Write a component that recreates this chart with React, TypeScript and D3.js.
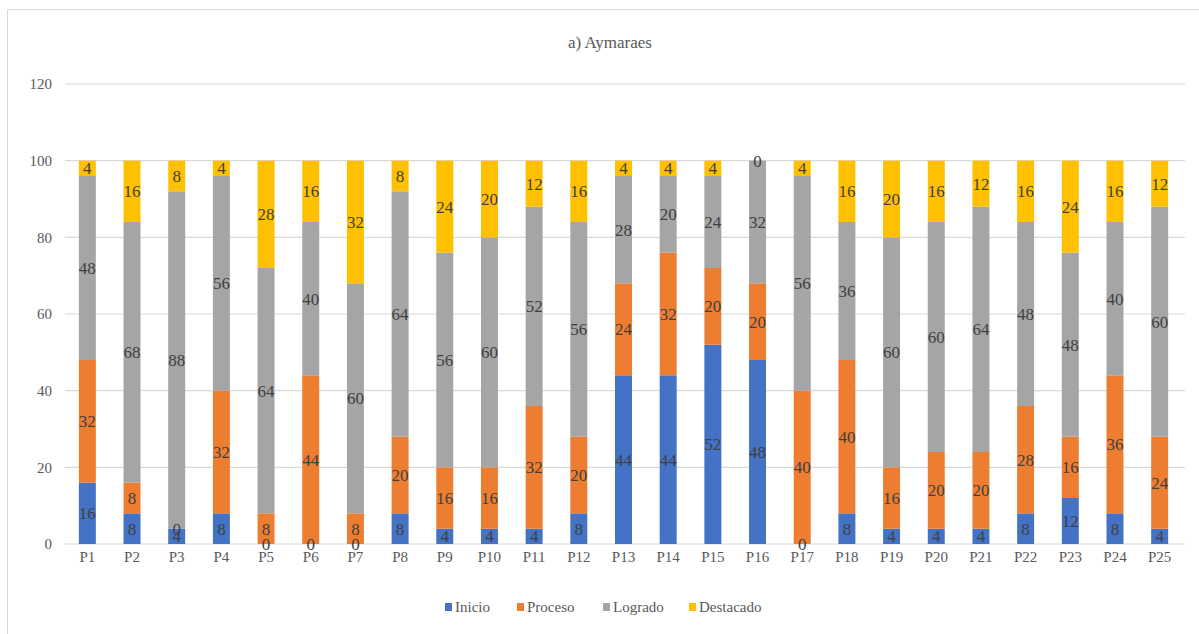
import React from "react";
import * as d3 from "d3";

const categories = ["P1","P2","P3","P4","P5","P6","P7","P8","P9","P10","P11","P12","P13","P14","P15","P16","P17","P18","P19","P20","P21","P22","P23","P24","P25"];
const inicio =    [16, 8, 4, 8, 0, 0, 0, 8, 4, 4, 4, 8, 44, 44, 52, 48, 0, 8, 4, 4, 4, 8, 12, 8, 4];
const proceso =   [32, 8, 0, 32, 8, 44, 8, 20, 16, 16, 32, 20, 24, 32, 20, 20, 40, 40, 16, 20, 20, 28, 16, 36, 24];
const logrado =   [48, 68, 88, 56, 64, 40, 60, 64, 56, 60, 52, 56, 28, 20, 24, 32, 56, 36, 60, 60, 64, 48, 48, 40, 60];
const destacado = [4, 16, 8, 4, 28, 16, 32, 8, 24, 20, 12, 16, 4, 4, 4, 0, 4, 16, 20, 16, 12, 16, 24, 16, 12];
const seriesNames = ["Inicio", "Proceso", "Logrado", "Destacado"];
const seriesColors = ["#4472C4", "#ED7D31", "#A5A5A5", "#FFC000"];
const yTicks = [0, 20, 40, 60, 80, 100, 120];

const W = 1199;
const H = 634;
const FONT = "serif";

export default function App() {
  const x = d3.scaleBand<string>().domain(categories).range([65, 1182]).paddingInner(0.62).paddingOuter(0.31);
  const y = d3.scaleLinear().domain([0, 120]).range([544, 84]);

  const rows = categories.map((c, i) => ({
    cat: c,
    Inicio: inicio[i],
    Proceso: proceso[i],
    Logrado: logrado[i],
    Destacado: destacado[i],
  }));
  const stacked = d3.stack<any>().keys(seriesNames)(rows);

  const legendItems = [
    { name: "Inicio", w: 44 },
    { name: "Proceso", w: 58 },
    { name: "Logrado", w: 58 },
    { name: "Destacado", w: 70 },
  ];
  let lx = 445;
  const legendPos = legendItems.map((it) => {
    const p = lx;
    lx += it.w + 28;
    return p;
  });

  const textStyle = { fontFamily: FONT };

  return (
    <svg width={W} height={H} style={{ position: "absolute", left: 0, top: 0, background: "#fff" }}>
      <rect x={7.5} y={9.5} width={W} height={H} fill="#fff" stroke="#d9d9d9" strokeWidth={1} />
      <text x={610} y={48} textAnchor="middle" style={textStyle} fontSize={17} fill="#595959">a) Aymaraes</text>

      {yTicks.map((t) => (
        <g key={t}>
          <line x1={65} x2={1185} y1={y(t)} y2={y(t)} stroke="#d9d9d9" strokeWidth={1.2} />
          <text x={52} y={y(t)} dy="0.35em" textAnchor="end" style={textStyle} fontSize={15} fill="#595959">{t}</text>
        </g>
      ))}

      {stacked.map((s, si) => (
        <g key={s.key}>
          {s.map((d, i) => (
            <rect
              key={i}
              x={x(categories[i])!}
              y={y(d[1])}
              width={x.bandwidth()}
              height={Math.max(0, y(d[0]) - y(d[1]))}
              fill={seriesColors[si]}
            />
          ))}
        </g>
      ))}

      {stacked.map((s) => (
        <g key={"l" + s.key}>
          {s.map((d, i) => (
            <text
              key={i}
              x={x(categories[i])! + x.bandwidth() / 2}
              y={y((d[0] + d[1]) / 2)}
              dy="0.35em"
              textAnchor="middle"
              style={textStyle}
              fontSize={17}
              fill="#404040"
            >
              {d[1] - d[0]}
            </text>
          ))}
        </g>
      ))}

      {categories.map((c) => (
        <text key={c} x={x(c)! + x.bandwidth() / 2} y={562} textAnchor="middle" style={textStyle} fontSize={15} fill="#595959">{c}</text>
      ))}

      {legendItems.map((it, i) => (
        <g key={it.name}>
          <rect x={legendPos[i]} y={603} width={7} height={8} fill={seriesColors[i]} />
          <text x={legendPos[i] + 10} y={612} style={textStyle} fontSize={15} fill="#595959">{it.name}</text>
        </g>
      ))}
    </svg>
  );
}
